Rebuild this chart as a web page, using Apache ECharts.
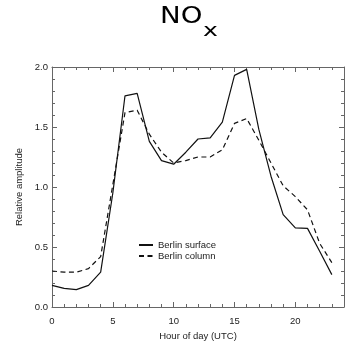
<!DOCTYPE html>
<html>
<head>
<meta charset="utf-8">
<script src="https://cdn.jsdelivr.net/npm/echarts@6/dist/echarts.min.js"></script>
<style>html,body{margin:0;padding:0;background:#fff;}#c{width:347px;height:346px;}</style>
</head>
<body>
<div id="c"></div>
<script>
const hours = [0,1,2,3,4,5,6,7,8,9,10,11,12,13,14,15,16,17,18,19,20,21,22,23];
const surface = [0.18,0.155,0.145,0.18,0.29,0.95,1.76,1.78,1.38,1.22,1.19,1.29,1.40,1.41,1.54,1.93,1.98,1.48,1.09,0.77,0.66,0.655,0.465,0.27];
const column = [0.30,0.29,0.29,0.32,0.42,1.02,1.62,1.64,1.44,1.29,1.20,1.22,1.25,1.25,1.31,1.53,1.57,1.39,1.20,1.01,0.92,0.81,0.53,0.37];
const seriesNames = ['Berlin surface','Berlin column'];
const xTicks = [0,5,10,15,20];
const yTicks = ['0.0','0.5','1.0','1.5','2.0'];

const FONT = 'Liberation Sans';
const AX = '#666';
const TXT = '#222';
const chart = echarts.init(document.getElementById('c'), null, {renderer:'canvas'});

function xAx(pos, major, labels){
  return {
    type:'value', position:pos, min:0, max:24, interval: major?5:1,
    axisLine:{show:major, onZero:false, lineStyle:{color:AX, width:1}},
    axisTick:{show:true, inside:true, length: major?5:3, lineStyle:{color:AX, width:1}},
    axisLabel:{show:labels, showMaxLabel:false, margin:9, fontSize:9.5, color:TXT, fontFamily:FONT,
      formatter: v => xTicks.indexOf(v) >= 0 ? String(v) : ''},
    splitLine:{show:false},
    name: labels ? 'Hour of day (UTC)' : '', nameLocation:'middle', nameGap:24,
    nameTextStyle:{fontSize:9.5, color:TXT, fontFamily:FONT}
  };
}
function yAx(pos, labels){
  return {
    type:'value', position:pos, min:0, max:2, interval:0.5,
    axisLine:{show:true, onZero:false, lineStyle:{color:AX, width:1}},
    axisTick:{show:true, inside:true, length:5, lineStyle:{color:AX, width:1}},
    minorTick:{show:true, splitNumber:5, length:3, lineStyle:{color:AX, width:1}},
    axisLabel:{show:labels, margin:4, fontSize:9.5, color:TXT, fontFamily:FONT,
      formatter: v => yTicks[Math.round(v/0.5)] || ''},
    splitLine:{show:false}, minorSplitLine:{show:false},
    name: labels ? 'Relative amplitude' : '', nameLocation:'middle', nameGap:26,
    nameTextStyle:{fontSize:9.5, color:TXT, fontFamily:FONT}
  };
}

chart.setOption({
  animation:false,
  backgroundColor:'#fff',
  graphic:[
    {type:'text', x:160, y:6, scaleX:1.2, style:{text:'NO', font:'23px "DejaVu Sans"', fill:'#000', verticalAlign:'top'}},
    {type:'text', x:203, y:22, scaleX:1.4, style:{text:'x', font:'18px "DejaVu Sans"', fill:'#000', verticalAlign:'top'}}
  ],
  grid:{left:52, right:3, top:67, bottom:39, containLabel:false},
  xAxis:[xAx('bottom',true,true), xAx('bottom',false,false), xAx('top',true,false), xAx('top',false,false)],
  yAxis:[yAx('left',true), yAx('right',false)],
  legend:{
    data:seriesNames, orient:'vertical', left:138, top:240,
    itemWidth:14, itemHeight:10, itemGap:1, padding:0,
    itemStyle:{opacity:0},
    textStyle:{fontSize:9.5, color:TXT, fontFamily:FONT}
  },
  series:[
    {name:seriesNames[0], type:'line', xAxisIndex:0, yAxisIndex:0, symbol:'none',
     data:hours.map((h,i)=>[h,surface[i]]), lineStyle:{color:'#111', width:1.2, type:'solid'}, itemStyle:{color:'#111'}},
    {name:seriesNames[1], type:'line', xAxisIndex:0, yAxisIndex:0, symbol:'none',
     data:hours.map((h,i)=>[h,column[i]]), lineStyle:{color:'#111', width:1.2, type:[5,3.5]}, itemStyle:{color:'#111'}}
  ]
});
</script>
</body>
</html>
